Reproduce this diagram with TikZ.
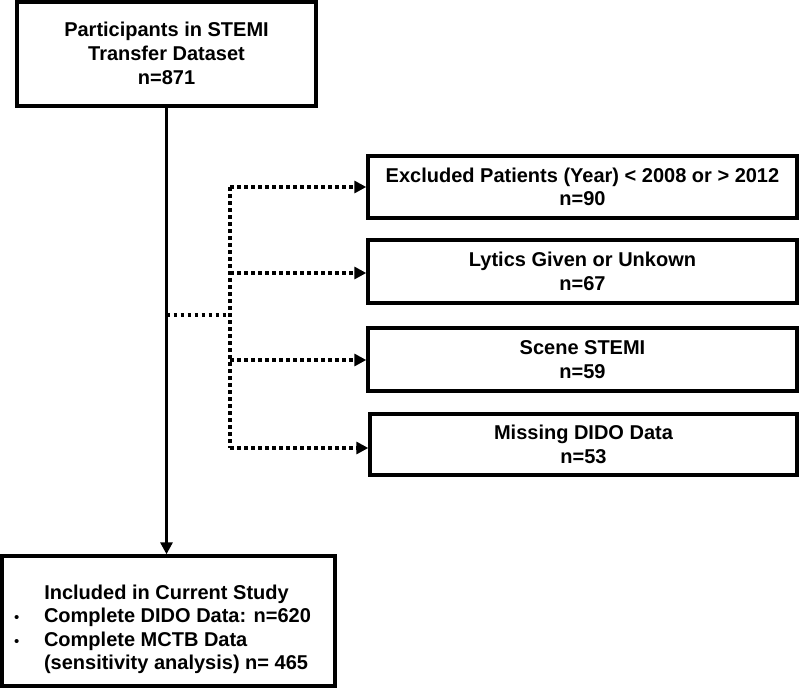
\documentclass[tikz,border=0pt]{standalone}
\usepackage{fontspec}
\setmainfont{Liberation Sans}
\usetikzlibrary{arrows.meta}
\begin{document}
\begin{tikzpicture}[x=1pt,y=-1pt,
  box/.style={draw=black, line width=3.4pt, fill=white, align=center, inner sep=0pt,
    font=\fontsize{20}{23.5}\selectfont\bfseries},
  solidarrow/.style={line width=3.4pt, -{Triangle[length=12pt,width=12pt]}},
  dotline/.style={line width=3.4pt, dash pattern=on 3.5pt off 3.5pt},
  dotarrow/.style={dotline, -{Triangle[length=12pt,width=12pt]}}]
\useasboundingbox (0,0) rectangle (800,688);
\node[box, minimum width=299pt, minimum height=104pt, font=\fontsize{20}{24}\selectfont\bfseries] (top) at (166.5,54)
  {\raisebox{-2pt}[\height][\depth]{\begin{tabular}{@{}c@{}}Participants in STEMI\\Transfer Dataset\\n=871\end{tabular}}};
\node[box, minimum width=333pt, minimum height=130pt] (incl) at (168.5,621)
  {\raisebox{-9pt}[\height][\depth]{\begin{tabular}{@{}p{30pt}@{}l@{}}
   \multicolumn{2}{@{}c@{}}{\hspace*{8pt}Included in Current Study}\\
   \normalfont\fontsize{15}{23.5}\selectfont\textbullet & Complete DIDO Data: n=620\\
   \normalfont\fontsize{15}{23.5}\selectfont\textbullet & Complete MCTB Data\\
   & (sensitivity analysis) n= 465
   \end{tabular}}\hspace*{12pt}};
\node[box, minimum width=429pt, minimum height=62pt] (ex1) at (582.5,187)
  {Excluded Patients (Year) < 2008 or > 2012\\n=90};
\node[box, minimum width=429pt, minimum height=63pt] (ex2) at (582.5,271.5)
  {Lytics Given or Unkown\\n=67};
\node[box, minimum width=429pt, minimum height=63pt] (ex3) at (582.5,359.5)
  {Scene STEMI\\n=59};
\node[box, minimum width=427pt, minimum height=61pt] (ex4) at (583.5,444.5)
  {Missing DIDO Data\\n=53};
\coordinate (br) at (168,315);
\coordinate (jv) at (230,315);
\coordinate (j1) at (230,187);
\coordinate (j2) at (230,273);
\coordinate (j3) at (230,360);
\coordinate (j4) at (230,448);
\draw[solidarrow] (top.south) -- (top.south |- incl.north);
\draw[dotline] (top.south |- br) -- (jv);
\draw[dotline] (j1) -- (j4);
\draw[dotarrow] (j1) -- (j1 -| ex1.west);
\draw[dotarrow] (j2) -- (j2 -| ex2.west);
\draw[dotarrow] (j3) -- (j3 -| ex3.west);
\draw[dotarrow] (j4) -- (j4 -| ex4.west);
\end{tikzpicture}
\end{document}
